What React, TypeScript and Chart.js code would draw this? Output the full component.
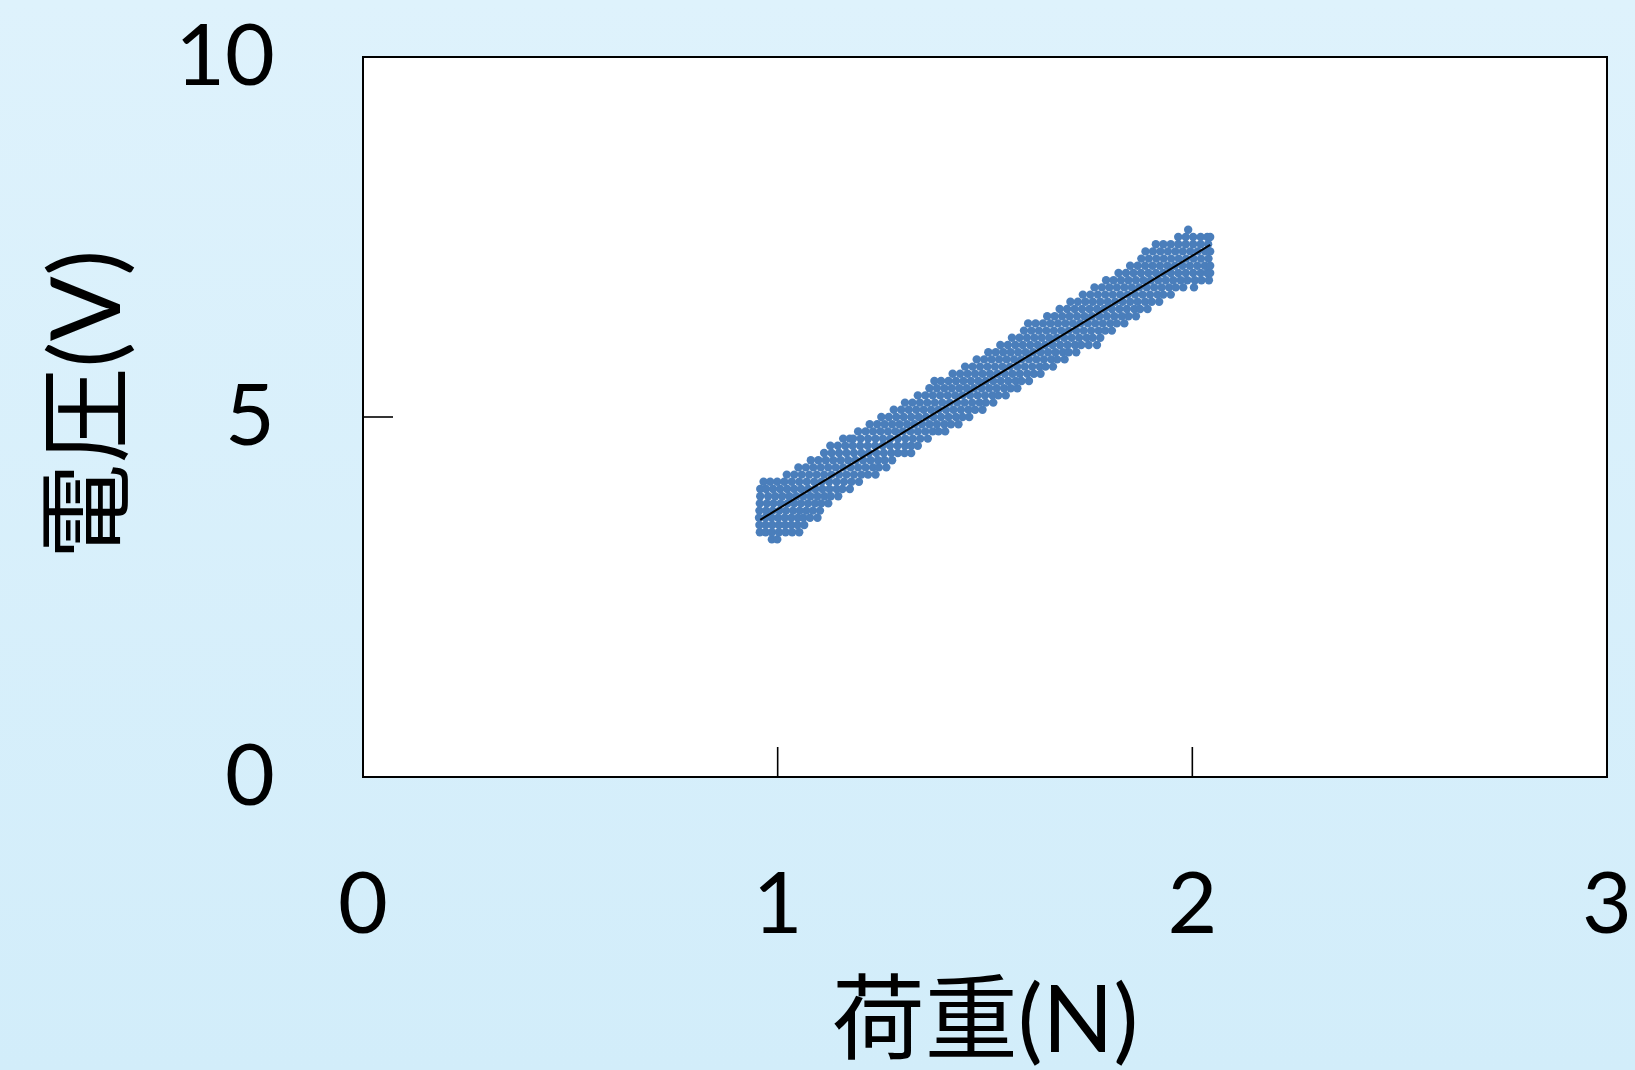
import React, { useEffect, useRef } from "react";
import { Chart, registerables } from "chart.js";

Chart.register(...registerables);

// ---- data ----
const xAxisTitle = "荷重(N)";
const yAxisTitle = " 電圧(V)";
const xTickStep = 1;
const yTickStep = 5;
const xRange = [0, 3];
const yRange = [0, 10];

// measured voltage levels (V) and the loads (N) at which each level was recorded
const voltageLevels = [
  3.3, 3.4, 3.5, 3.6, 3.7, 3.8, 3.9, 4.0, 4.1, 4.2, 4.3, 4.4, 4.5, 4.6, 4.7, 4.8,
  4.9, 5.0, 5.1, 5.2, 5.3, 5.4, 5.5, 5.6, 5.7, 5.8, 5.9, 6.0, 6.1, 6.2, 6.3, 6.4,
  6.5, 6.6, 6.7, 6.8, 6.9, 7.0, 7.1, 7.2, 7.3, 7.4, 7.5, 7.6,
];
const loadsAtLevel = [
  [0.986, 0.999],
  [0.957, 0.971, 0.986, 1.003, 1.019, 1.035, 1.052],
  [0.956, 0.971, 0.987, 1.003, 1.018, 1.033, 1.048, 1.064],
  [0.955, 0.97, 0.985, 1.001, 1.017, 1.033, 1.049, 1.062, 1.078, 1.096],
  [0.956, 0.972, 0.988, 1.004, 1.02, 1.037, 1.053, 1.069, 1.085, 1.102],
  [0.957, 0.974, 0.99, 1.007, 1.024, 1.04, 1.056, 1.073, 1.09, 1.105, 1.122],
  [0.958, 0.977, 0.994, 1.011, 1.028, 1.045, 1.062, 1.079, 1.096, 1.113, 1.128, 1.146],
  [0.958, 0.972, 0.989, 1.006, 1.023, 1.04, 1.057, 1.074, 1.091, 1.108, 1.125, 1.142, 1.156, 1.174],
  [0.966, 0.982, 0.999, 1.016, 1.034, 1.052, 1.07, 1.088, 1.106, 1.124, 1.142, 1.16, 1.178, 1.196],
  [1.022, 1.04, 1.058, 1.076, 1.094, 1.112, 1.13, 1.148, 1.166, 1.184, 1.202, 1.218, 1.236],
  [1.05, 1.068, 1.086, 1.104, 1.122, 1.14, 1.158, 1.176, 1.194, 1.212, 1.23, 1.244, 1.262],
  [1.08, 1.098, 1.116, 1.134, 1.152, 1.17, 1.188, 1.206, 1.224, 1.242, 1.258, 1.276],
  [1.112, 1.13, 1.148, 1.166, 1.184, 1.202, 1.22, 1.238, 1.256, 1.274, 1.29, 1.306, 1.322],
  [1.127, 1.145, 1.163, 1.181, 1.199, 1.217, 1.235, 1.253, 1.271, 1.289, 1.307, 1.322, 1.338],
  [1.158, 1.174, 1.182, 1.2, 1.218, 1.236, 1.254, 1.272, 1.29, 1.308, 1.326, 1.344, 1.362],
  [1.194, 1.212, 1.23, 1.248, 1.266, 1.284, 1.302, 1.32, 1.338, 1.356, 1.374, 1.388, 1.404],
  [1.222, 1.24, 1.258, 1.276, 1.294, 1.312, 1.33, 1.348, 1.366, 1.384, 1.402, 1.418, 1.436],
  [1.25, 1.268, 1.286, 1.304, 1.322, 1.34, 1.358, 1.376, 1.394, 1.412, 1.43, 1.446, 1.462],
  [1.28, 1.298, 1.316, 1.334, 1.352, 1.37, 1.388, 1.406, 1.424, 1.442, 1.46, 1.476, 1.494],
  [1.307, 1.325, 1.343, 1.361, 1.379, 1.397, 1.415, 1.433, 1.451, 1.469, 1.487, 1.502, 1.52],
  [1.338, 1.356, 1.374, 1.392, 1.41, 1.428, 1.446, 1.464, 1.482, 1.5, 1.518, 1.532, 1.55],
  [1.366, 1.384, 1.402, 1.42, 1.438, 1.456, 1.474, 1.492, 1.51, 1.528, 1.546, 1.562, 1.578],
  [1.378, 1.394, 1.412, 1.43, 1.448, 1.466, 1.484, 1.502, 1.52, 1.538, 1.556, 1.574, 1.588, 1.606],
  [1.422, 1.44, 1.458, 1.476, 1.494, 1.512, 1.53, 1.548, 1.566, 1.584, 1.602, 1.618, 1.634],
  [1.452, 1.47, 1.488, 1.506, 1.524, 1.542, 1.56, 1.578, 1.596, 1.614, 1.632, 1.646, 1.664],
  [1.48, 1.498, 1.516, 1.534, 1.552, 1.57, 1.588, 1.606, 1.624, 1.642, 1.66, 1.674, 1.692],
  [1.508, 1.526, 1.544, 1.562, 1.58, 1.598, 1.616, 1.634, 1.652, 1.67, 1.688, 1.702, 1.72],
  [1.537, 1.555, 1.573, 1.591, 1.609, 1.627, 1.645, 1.663, 1.681, 1.699, 1.717, 1.732, 1.75, 1.77],
  [1.565, 1.583, 1.601, 1.619, 1.637, 1.655, 1.673, 1.691, 1.709, 1.727, 1.745, 1.76, 1.778],
  [1.594, 1.612, 1.63, 1.648, 1.666, 1.684, 1.702, 1.72, 1.738, 1.756, 1.774, 1.79, 1.806],
  [1.604, 1.622, 1.64, 1.658, 1.676, 1.694, 1.712, 1.73, 1.748, 1.766, 1.784, 1.802, 1.818, 1.836],
  [1.65, 1.668, 1.686, 1.704, 1.722, 1.74, 1.758, 1.776, 1.794, 1.812, 1.83, 1.846, 1.864],
  [1.68, 1.698, 1.716, 1.734, 1.752, 1.77, 1.788, 1.806, 1.824, 1.842, 1.86, 1.874, 1.892],
  [1.706, 1.724, 1.742, 1.76, 1.778, 1.796, 1.814, 1.832, 1.85, 1.868, 1.886, 1.902, 1.92],
  [1.736, 1.754, 1.772, 1.79, 1.808, 1.826, 1.844, 1.862, 1.88, 1.898, 1.916, 1.93, 1.948],
  [1.764, 1.782, 1.8, 1.818, 1.836, 1.854, 1.872, 1.89, 1.908, 1.926, 1.944, 1.96, 1.978, 2.004],
  [1.792, 1.81, 1.828, 1.846, 1.864, 1.882, 1.9, 1.918, 1.936, 1.954, 1.972, 1.988, 2.006, 2.022, 2.04],
  [1.822, 1.84, 1.858, 1.876, 1.894, 1.912, 1.93, 1.948, 1.966, 1.984, 2.002, 2.02, 2.036, 2.043],
  [1.85, 1.868, 1.886, 1.904, 1.922, 1.94, 1.958, 1.976, 1.994, 2.012, 2.03, 2.043],
  [1.877, 1.895, 1.913, 1.931, 1.949, 1.967, 1.985, 2.003, 2.021, 2.039],
  [1.887, 1.905, 1.923, 1.941, 1.959, 1.977, 1.995, 2.013, 2.031, 2.043],
  [1.912, 1.93, 1.948, 1.966, 1.984, 2.002, 2.02, 2.038],
  [1.966, 1.984, 2.002, 2.02, 2.036, 2.043],
  [1.99],
];

// linear trend line end points
const trendLoad = [0.958, 2.043];
const trendVoltage = [3.57, 7.39];

const FONT_NUM = "Lato, 'Noto Sans CJK JP', sans-serif";
const FONT_TITLE = "Lato, 'Noto Sans CJK JP', sans-serif";

const framePlugin = {
  id: "frameAndTicks",
  beforeDraw(chart: any) {
    const { ctx, chartArea: a } = chart;
    ctx.save();
    ctx.fillStyle = "#ffffff";
    ctx.fillRect(a.left, a.top, a.right - a.left, a.bottom - a.top);
    ctx.restore();
  },
  afterDraw(chart: any) {
    const { ctx, chartArea: a, scales } = chart;
    ctx.save();
    ctx.strokeStyle = "#000";
    ctx.lineWidth = 1.6;
    // inward tick marks
    const tickLen = 30;
    scales.x.ticks.forEach((t: any) => {
      const px = scales.x.getPixelForValue(t.value);
      ctx.beginPath();
      ctx.moveTo(px, a.bottom);
      ctx.lineTo(px, a.bottom - tickLen);
      ctx.stroke();
    });
    scales.y.ticks.forEach((t: any) => {
      const py = scales.y.getPixelForValue(t.value);
      ctx.beginPath();
      ctx.moveTo(a.left, py);
      ctx.lineTo(a.left + tickLen, py);
      ctx.stroke();
    });
    ctx.lineWidth = 2;
    ctx.strokeRect(a.left, a.top, a.right - a.left, a.bottom - a.top);
    ctx.restore();
  },
};

function zeroPad(scale: any) {
  scale.paddingLeft = 0;
  scale.paddingRight = 0;
  scale.paddingTop = 0;
  scale.paddingBottom = 0;
}

export default function App() {
  const canvasRef = useRef<HTMLCanvasElement | null>(null);

  useEffect(() => {
    document.body.style.margin = "0";
    const canvas = canvasRef.current;
    if (!canvas) return;

    const points: { x: number; y: number }[] = [];
    voltageLevels.forEach((v, i) => {
      loadsAtLevel[i].forEach((x) => points.push({ x, y: v }));
    });
    const trend = trendLoad.map((x, i) => ({ x, y: trendVoltage[i] }));

    const chart = new Chart(canvas, {
      type: "scatter",
      data: {
        datasets: [
          {
            type: "line",
            data: trend,
            borderColor: "#000000",
            borderWidth: 2,
            pointRadius: 0,
            fill: false,
            order: 0,
          } as any,
          {
            type: "scatter",
            data: points,
            backgroundColor: "#4A7EBB",
            borderWidth: 0,
            pointRadius: 4.2,
            pointHoverRadius: 4.2,
            order: 1,
          },
        ],
      },
      options: {
        responsive: false,
        animation: false,
        devicePixelRatio: 1,
        layout: { padding: { left: 0, top: 57, right: 28, bottom: 0 } },
        plugins: {
          legend: { display: false },
          tooltip: { enabled: false },
        },
        scales: {
          x: {
            type: "linear",
            min: xRange[0],
            max: xRange[1],
            grid: { display: false },
            border: { display: false },
            ticks: {
              stepSize: xTickStep,
              color: "#000",
              padding: 77,
              font: { family: FONT_NUM, size: 86, lineHeight: 1 },
              maxRotation: 0,
            },
            title: {
              display: true,
              text: xAxisTitle,
              color: "#000",
              font: { family: FONT_TITLE, size: 93, lineHeight: 1 },
              padding: { top: 0, bottom: 2 },
            },
            afterFit(scale: any) {
              scale.height = 293;
              zeroPad(scale);
            },
          },
          y: {
            type: "linear",
            min: yRange[0],
            max: yRange[1],
            grid: { display: false },
            border: { display: false },
            ticks: {
              stepSize: yTickStep,
              color: "#000",
              padding: 80,
              font: { family: FONT_NUM, size: 86, lineHeight: 1 },
            },
            title: {
              display: true,
              text: yAxisTitle,
              color: "#000",
              font: { family: FONT_TITLE, size: 96, lineHeight: 1 },
              padding: { top: 41, bottom: 0 },
            },
            afterFit(scale: any) {
              scale.width = 363;
              zeroPad(scale);
            },
          },
        },
      },
      plugins: [framePlugin],
    });

    return () => chart.destroy();
  }, []);

  return (
    <div
      style={{
        width: 1635,
        height: 1070,
        background: "linear-gradient(to bottom, #DEF2FC, #D2EDFA)",
        overflow: "hidden",
      }}
    >
      <canvas ref={canvasRef} width={1635} height={1070} style={{ display: "block" }} />
    </div>
  );
}
